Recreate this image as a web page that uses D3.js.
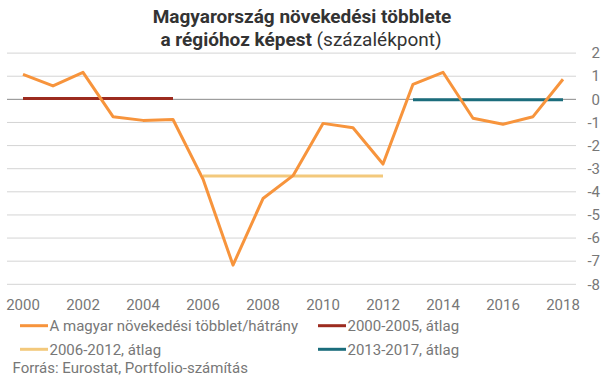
<!DOCTYPE html>
<html><head><meta charset="utf-8">
<script src="https://cdn.jsdelivr.net/npm/d3@7"></script>
<style>
body{margin:0;background:#fff;}
text{font-family:Roboto,"Open Sans",sans-serif;}
</style></head>
<body><svg id="c" width="605" height="378"></svg>
<script>
const years = d3.range(2000, 2019);
const values = [1.08, 0.58, 1.17, -0.75, -0.91, -0.87, -3.45, -7.17, -4.29, -3.3, -1.04, -1.23, -2.8, 0.65, 1.17, -0.82, -1.08, -0.75, 0.87];
const averages = [
  {name: "2000-2005, átlag", from: 2000, to: 2005, value: 0.04, color: "#9c2b1f"},
  {name: "2006-2012, átlag", from: 2006, to: 2012, value: -3.32, color: "#f3c97c"},
  {name: "2013-2017, átlag", from: 2013, to: 2018, value: -0.02, color: "#1b6d7c"}
];
const yTicks = [2, 1, 0, -1, -2, -3, -4, -5, -6, -7, -8];
const xTickLabels = [2000, 2002, 2004, 2006, 2008, 2010, 2012, 2014, 2016, 2018];
const mainName = "A magyar növekedési többlet/hátrány";
const mainColor = "#f7943c";

const svg = d3.select("#c");
const x = d3.scalePoint().domain(years).range([8, 578]).padding(0.5);
const y = d3.scaleLinear().domain([-8, 2]).range([284.3, 53.1]);

// title
svg.append("text").attr("x", 302).attr("y", 23).attr("text-anchor", "middle").attr("fill", "#333")
  .style("font-size", "19px").attr("font-weight", "bold").text("Magyarország növekedési többlete");
const t2 = svg.append("text").attr("x", 301).attr("y", 46).attr("text-anchor", "middle").attr("fill", "#333").style("font-size", "19px");
t2.append("tspan").attr("font-weight", "bold").text("a régióhoz képest");
t2.append("tspan").text(" (százalékpont)");

// gridlines
svg.append("g").selectAll("line").data(yTicks).join("line")
  .attr("x1", 7).attr("x2", 576)
  .attr("y1", d => y(d)).attr("y2", d => y(d))
  .attr("stroke", d => d === 0 ? "#8a8a8a" : "#d4d4d4").attr("stroke-width", 1);

// y labels (right)
svg.append("g").selectAll("text").data(yTicks).join("text")
  .attr("x", 600).attr("y", d => y(d)).attr("dy", "0.35em")
  .attr("text-anchor", "end").attr("fill", "#777").style("font-size", "15px")
  .text(d => d);

// x labels
svg.append("g").selectAll("text").data(xTickLabels).join("text")
  .attr("x", d => x(d)).attr("y", 310)
  .attr("text-anchor", "middle").attr("fill", "#777").style("font-size", "15px")
  .text(d => d);

// average lines
svg.append("g").selectAll("line").data(averages).join("line")
  .attr("x1", d => x(d.from)).attr("x2", d => x(d.to))
  .attr("y1", d => y(d.value)).attr("y2", d => y(d.value))
  .attr("stroke", d => d.color).attr("stroke-width", 3);

// main line
const line = d3.line().x((d, i) => x(years[i])).y(d => y(d));
svg.append("path").datum(values).attr("d", line)
  .attr("fill", "none").attr("stroke", mainColor).attr("stroke-width", 3).attr("stroke-linejoin", "round");

// legend
const legend = [
  {name: mainName, color: mainColor, lx: 20, ly: 325.7},
  {name: averages[0].name, color: averages[0].color, lx: 318, ly: 325.7},
  {name: averages[1].name, color: averages[1].color, lx: 20, ly: 349.3},
  {name: averages[2].name, color: averages[2].color, lx: 318, ly: 349.3}
];
const lg = svg.append("g").selectAll("g").data(legend).join("g")
  .attr("transform", d => `translate(${d.lx},${d.ly})`);
lg.append("line").attr("x1", 0).attr("x2", 28).attr("stroke", d => d.color).attr("stroke-width", 3);
lg.append("text").attr("x", 29.5).attr("dy", "0.35em").attr("fill", "#777").style("font-size", "15px").text(d => d.name);

svg.append("text").attr("x", 12.5).attr("y", 373).attr("fill", "#777").style("font-size", "15px")
  .text("Forrás: Eurostat, Portfolio-számítás");
</script></body></html>
